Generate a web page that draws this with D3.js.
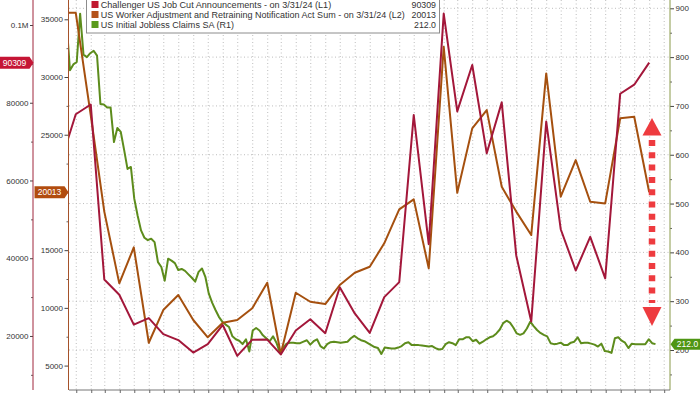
<!DOCTYPE html>
<html><head><meta charset="utf-8">
<script src="https://cdn.jsdelivr.net/npm/d3@7"></script>
<style>html,body{margin:0;padding:0;background:#fff;overflow:hidden}</style>
</head><body>
<svg id="c" width="700" height="394"></svg>
<script>
// ---------- DATA ----------
const months = ["2020-11","2020-12",
 "2021-01","2021-02","2021-03","2021-04","2021-05","2021-06","2021-07","2021-08","2021-09","2021-10","2021-11","2021-12",
 "2022-01","2022-02","2022-03","2022-04","2022-05","2022-06","2022-07","2022-08","2022-09","2022-10","2022-11","2022-12",
 "2023-01","2023-02","2023-03","2023-04","2023-05","2023-06","2023-07","2023-08","2023-09","2023-10","2023-11","2023-12",
 "2024-01","2024-02","2024-03"];
const challenger = [64797,77030,
 79552,34531,30603,22913,24586,20476,18942,15723,17895,22822,14875,19052,
 19064,15245,21387,24286,20712,32517,25810,20781,29989,33843,76835,43651,
 102943,77770,89703,66995,80089,40709,23697,75151,47457,36836,45510,34817,
 82307,84638,90309];
const warn = [35560,35560,
 26670,18340,12125,15240,6980,9810,11110,8950,7450,8710,8950,9960,
 12180,6000,11310,10530,10330,11980,13040,13560,15590,18530,19400,13420,
 32620,19970,25550,27130,20490,18340,16310,30310,19630,22800,19190,19050,
 26420,26560,20013];
const claimsStart = "2020-12-12";   // weekly, week-ending dates
const claims = [
 870,773,785,790,889,805,800,808,813,803,
 704,703,697,697,626,655,647,610,571,575,
 510,475,445,430,425,428,421,380,370,342,
 387,383,378,364,366,362,355,348,340,360,
 367,350,316,297,282,268,258,252,247,228,
 222,219,212,222,197,240,245,240,230,224,
 218,228,215,195,205,213,215,215,214,214,
 217,220,211,218,222,208,203,212,216,217,
 216,215,216,217,224,229,224,220,218,214,
 210,206,204,192,205,204,203,203,205,208,
 214,216,210,210,210,209,208,207,208,204,
 201,202,212,216,214,210,222,222,226,226,
 218,221,213,217,222,226,228,234,242,255,
 260,256,246,234,231,234,244,258,249,241,
 235,231,228,214,212,213,215,210,210,215,
 217,226,214,215,215,213,211,207,213,198,
 197,194,224,226,219,215,204,213,212,212,
 212,212,222,214,212];
const l1Ticks = [20000,40000,60000,80000,100000];
const l1Labels = ["20000","40000","60000","80000","0.1M"];
const l1Minor = [10000,30000,50000,70000,90000];
const l2Ticks = [5000,10000,15000,20000,25000,30000,35000];
const l2Hidden = [20000];           // label covered by the last-value badge
const l2Minor = [2500,7500,12500,17500,22500,27500,32500];
const rTicks = [200,300,400,500,600,700,800,900];
const rMinor = [150,250,350,450,550,650,750,850];
const legendLabels = [
 "Challenger US Job Cut Announcements -  on 3/31/24  (L1)",
 "US Worker Adjustment and Retraining Notification Act Sum -  on 3/31/24  (L2)",
 "US Initial Jobless Claims SA  (R1)"];
const legendValues = ["90309","20013","212.0"];
const lastValues = [90309, 20013, 212.0];

// ---------- STYLE / LAYOUT ----------
const W=700,H=394, PL=69, PR=670, PT=0, PB=390;
const cRed="#a3173a", cOrg="#a5500f", cGrn="#5d8c1c";
const font="'Liberation Sans', Arial, sans-serif";
const svg = d3.select("#c");

const parseM = d3.utcParse("%Y-%m");
const monthEnd = m => d3.utcDay.offset(d3.utcMonth.offset(parseM(m),1),-1);
const mDates = months.map(monthEnd);
const cStart = d3.utcParse("%Y-%m-%d")(claimsStart);
const cDates = claims.map((v,i)=>d3.utcDay.offset(cStart, i*7));

const x = d3.scaleUtc().domain([new Date(Date.UTC(2020,11,17)), new Date(Date.UTC(2024,4,13))]).range([PL,PR]);
const yL1 = d3.scaleLinear().domain([0,100000]).range([413.7,25]);
const yL2 = d3.scaleLinear().domain([0,35000]).range([423.3,19.3]);
const yR  = d3.scaleLinear().domain([200,900]).range([350,8.3]);

svg.append("rect").attr("width",W).attr("height",H).attr("fill","#fff");

// gridlines
const grid = svg.append("g");
d3.utcMonth.range(x.domain()[0], x.domain()[1]).forEach(d=>{
  grid.append("line").attr("x1",x(d)).attr("x2",x(d)).attr("y1",PT).attr("y2",PB)
   .attr("stroke","#bdbdbd").attr("stroke-width",1).attr("stroke-dasharray","1,2.5");
});
rTicks.forEach(v=>{
  grid.append("line").attr("x1",PL).attr("x2",PR).attr("y1",yR(v)).attr("y2",yR(v))
   .attr("stroke","#bdbdbd").attr("stroke-width",1).attr("stroke-dasharray","1,2.5");
});

// clip
svg.append("clipPath").attr("id","pc").append("rect")
  .attr("x",PL).attr("y",PT).attr("width",PR-PL).attr("height",PB-PT);
const plot = svg.append("g").attr("clip-path","url(#pc)");

const lineG = d3.line().x((d,i)=>x(cDates[i])).y(d=>yR(d));
const lineO = d3.line().x((d,i)=>x(mDates[i])).y(d=>yL2(d));
const lineR = d3.line().x((d,i)=>x(mDates[i])).y(d=>yL1(d));
plot.append("path").datum(claims).attr("d",lineG).attr("fill","none").attr("stroke",cGrn).attr("stroke-width",2).attr("stroke-linejoin","round");
plot.append("path").datum(warn).attr("d",lineO).attr("fill","none").attr("stroke",cOrg).attr("stroke-width",2).attr("stroke-linejoin","round");
plot.append("path").datum(challenger).attr("d",lineR).attr("fill","none").attr("stroke",cRed).attr("stroke-width",2).attr("stroke-linejoin","round");

// axes
function styleAxis(g){
  g.select(".domain").remove();
  g.selectAll("text").attr("font-family",font).attr("font-size",8).attr("fill","#333");
}
// L1
const gL1 = svg.append("g").attr("transform","translate(33,0)")
  .call(d3.axisLeft(yL1).tickValues(l1Ticks).tickFormat((d,i)=>l1Labels[i]).tickSize(3).tickPadding(1.5));
styleAxis(gL1); gL1.selectAll("line").attr("stroke","#444");
const gL1m = svg.append("g").attr("transform","translate(33,0)")
  .call(d3.axisLeft(yL1).tickValues(l1Minor).tickFormat("").tickSize(2));
gL1m.select(".domain").remove(); gL1m.selectAll("line").attr("stroke","#666");
svg.append("line").attr("x1",33).attr("x2",33).attr("y1",0).attr("y2",PB).attr("stroke","#a0263c").attr("stroke-width",1);
// L2
const gL2 = svg.append("g").attr("transform","translate(68.5,0)")
  .call(d3.axisLeft(yL2).tickValues(l2Ticks).tickSize(4).tickPadding(1.5)
    .tickFormat(d=>l2Hidden.includes(d) ? "" : d3.format("d")(d)));
styleAxis(gL2); gL2.selectAll("line").attr("stroke","#444");
const gL2m = svg.append("g").attr("transform","translate(68.5,0)")
  .call(d3.axisLeft(yL2).tickValues(l2Minor).tickFormat("").tickSize(2));
gL2m.select(".domain").remove(); gL2m.selectAll("line").attr("stroke","#666");
svg.append("line").attr("x1",68.5).attr("x2",68.5).attr("y1",0).attr("y2",PB).attr("stroke","#a5522a").attr("stroke-width",1);
// R
const gR = svg.append("g").attr("transform","translate(670,0)")
  .call(d3.axisRight(yR).tickValues(rTicks).tickSize(4).tickPadding(1.5).tickFormat(d3.format("d")));
styleAxis(gR); gR.selectAll("line").attr("stroke","#444");
const gRm = svg.append("g").attr("transform","translate(670,0)")
  .call(d3.axisRight(yR).tickValues(rMinor).tickFormat("").tickSize(2));
gRm.select(".domain").remove(); gRm.selectAll("line").attr("stroke","#666");
svg.append("line").attr("x1",670).attr("x2",670).attr("y1",0).attr("y2",PB).attr("stroke","#8a9a4a").attr("stroke-width",1);
// bottom
svg.append("line").attr("x1",PL).attr("x2",PR).attr("y1",PB).attr("y2",PB).attr("stroke","#777").attr("stroke-width",1);
const gX = svg.append("g").attr("transform",`translate(0,${PB})`)
  .call(d3.axisBottom(x).ticks(d3.utcMonth.every(1)).tickFormat("").tickSize(3));
gX.select(".domain").remove(); gX.selectAll("line").attr("stroke","#666");

// red dotted arrow annotation
const ax=652;
const ann = svg.append("g");
ann.append("line").attr("x1",ax).attr("x2",ax).attr("y1",140).attr("y2",303)
  .attr("stroke","#ee3b3f").attr("stroke-width",6.5).attr("stroke-dasharray","6,6.3");
ann.append("path").attr("d",`M${ax},118 L${ax+9.5},135.5 L${ax-9.5},135.5 Z`).attr("fill","#ee3b3f");
ann.append("path").attr("d",`M${ax},326 L${ax+9.5},307 L${ax-9.5},307 Z`).attr("fill","#ee3b3f");

// legend
const lg = svg.append("g");
lg.append("rect").attr("x",86.5).attr("y",-1).attr("width",353).attr("height",34)
  .attr("fill","#fff").attr("stroke","#8c8c8c").attr("stroke-width",1);
const sq = ["#c0182f","#b4521a","#5a9a1c"];
const tl = [231,304,133.3];
legendLabels.forEach((t,i)=>{
  const cy = 4.5 + i*10;
  lg.append("rect").attr("x",91.5).attr("y",cy-3.5).attr("width",7).attr("height",7).attr("fill",sq[i]);
  const tx = lg.append("text").attr("x",100.7).attr("y",cy+3.3).attr("font-family",font).attr("font-size",9.5)
    .attr("fill","#333").text(t);
  const w = tx.node().getComputedTextLength();
  tx.attr("font-size", (9.5*tl[i]/w).toFixed(2));
  lg.append("text").attr("x",436).attr("y",cy+3.3).attr("font-family",font).attr("font-size",8.8)
    .attr("fill","#333").attr("text-anchor","end").text(legendValues[i]);
});

// badges
function badge(xTip, yc, w, h, fill, txt, dir){
  const g = svg.append("g");
  let d;
  if(dir==="right"){ const x0=xTip-w; d=`M${x0},${yc-h/2} L${xTip-4},${yc-h/2} L${xTip},${yc} L${xTip-4},${yc+h/2} L${x0},${yc+h/2} Z`;
    g.append("path").attr("d",d).attr("fill",fill);
    g.append("text").attr("x",x0+(w-4)/2).attr("y",yc+3).attr("text-anchor","middle").attr("font-family",font).attr("font-size",8.5).attr("fill","#fff").text(txt);
  } else { const x1=xTip+w; d=`M${xTip},${yc} L${xTip+4},${yc-h/2} L${x1},${yc-h/2} L${x1},${yc+h/2} L${xTip+4},${yc+h/2} Z`;
    g.append("path").attr("d",d).attr("fill",fill);
    g.append("text").attr("x",xTip+4+(w-4)/2).attr("y",yc+3).attr("text-anchor","middle").attr("font-family",font).attr("font-size",8.5).attr("fill","#fff").text(txt);
  }
}
badge(33.5, yL1(lastValues[0]), 34, 12, "#c51535", legendValues[0], "right");
badge(68.5, yL2(lastValues[1]), 34, 12, "#b24c0e", legendValues[1], "right");
badge(670.5, yR(lastValues[2]), 30, 11, "#4f9614", legendValues[2], "left");
</script>
</body></html>
